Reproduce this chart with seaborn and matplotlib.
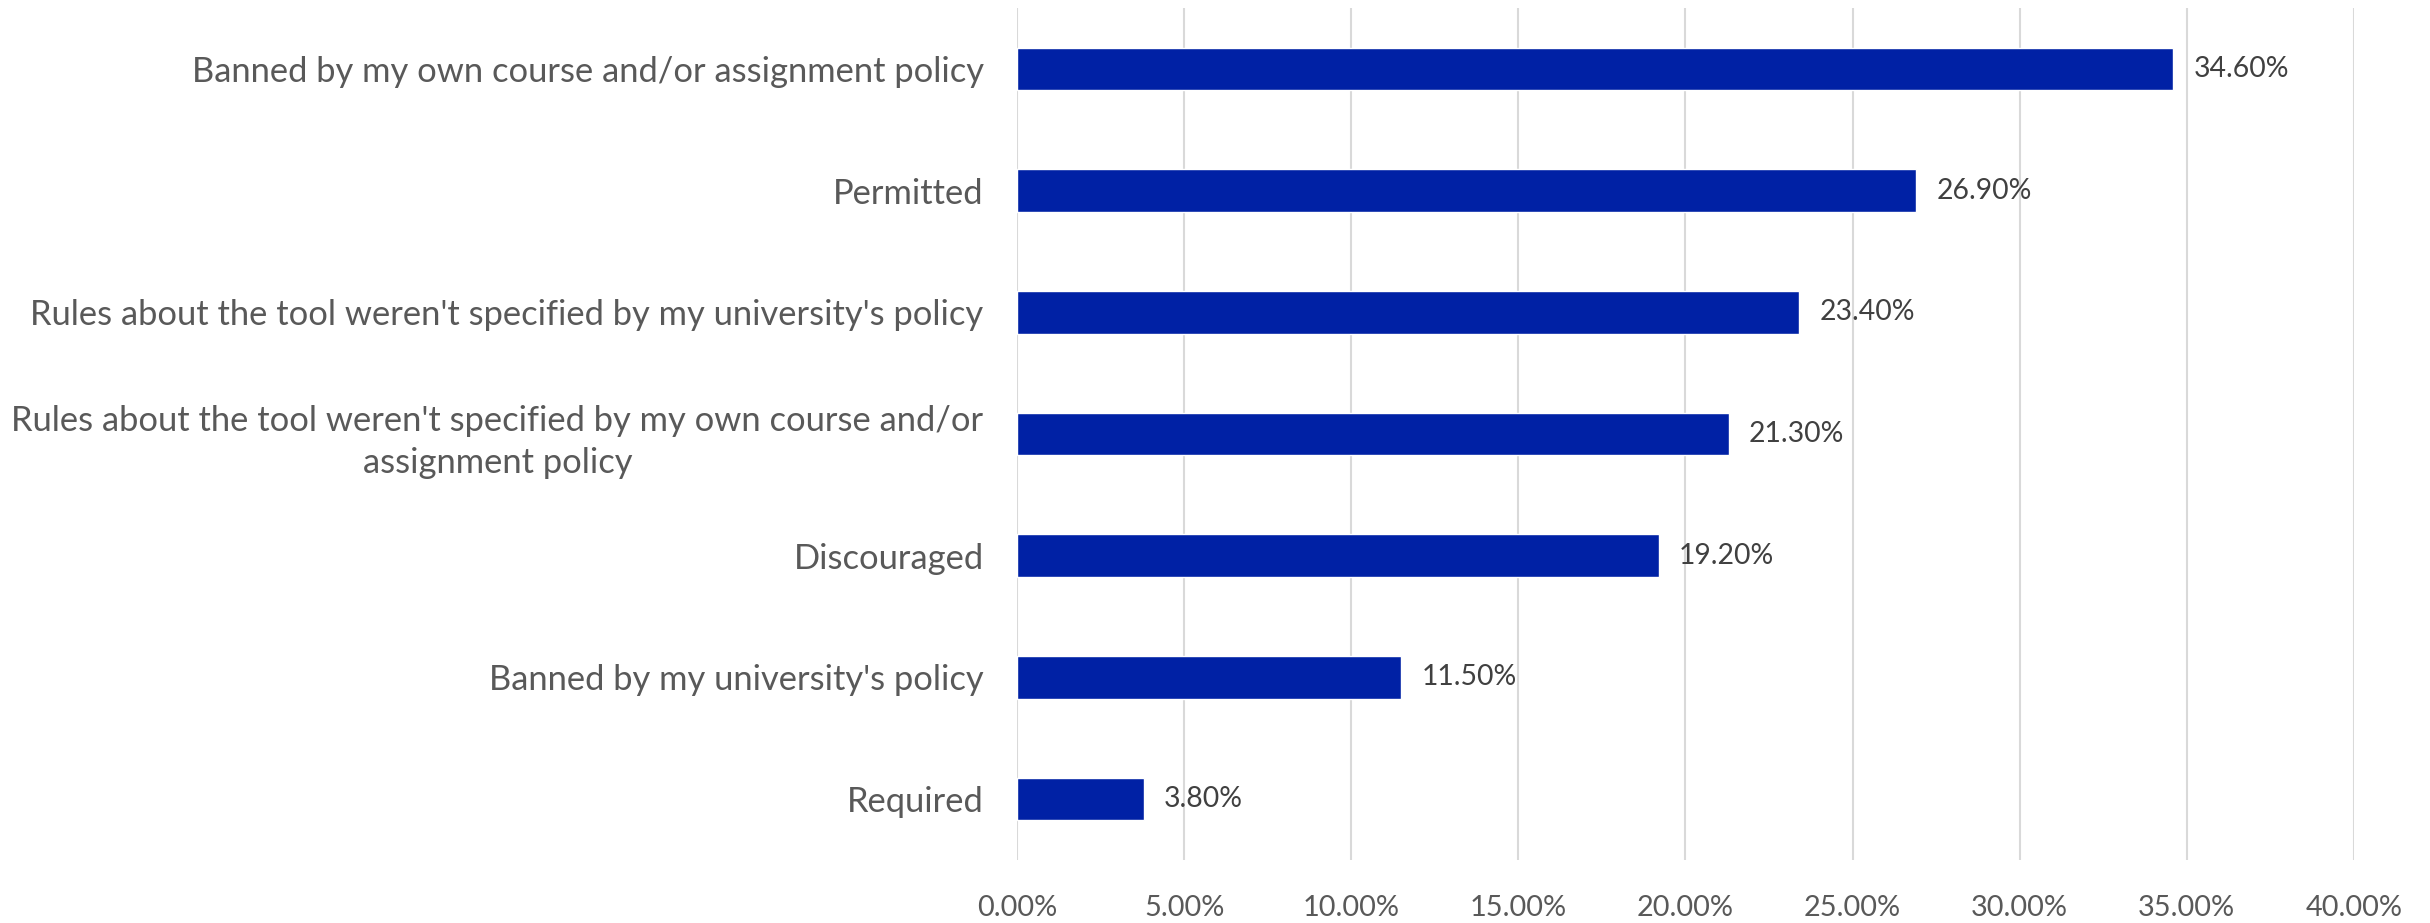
import matplotlib
matplotlib.use("Agg")
import matplotlib.pyplot as plt
import seaborn as sns
import pandas as pd
from matplotlib.ticker import FuncFormatter

categories = [
    "Banned by my own course and/or assignment policy",
    "Permitted",
    "Rules about the tool weren't specified by my university's policy",
    "Rules about the tool weren't specified by my own course and/or\nassignment policy",
    "Discouraged",
    "Banned by my university's policy",
    "Required",
]
values = [34.6, 26.9, 23.4, 21.3, 19.2, 11.5, 3.8]

df = pd.DataFrame({"category": categories, "value": values})

sns.set_style("white")
plt.rcParams["font.family"] = ["Lato", "DejaVu Sans"]

fig = plt.figure(figsize=(24.3, 9.23), dpi=100)
ax = fig.add_axes([0.4185, 0.0683, 0.9687 - 0.4185, 0.9913 - 0.0683])

sns.barplot(data=df, x="value", y="category", color="#0021A5", width=0.35,
            saturation=1, ax=ax, orient="h")

ax.set_xlim(0, 40)
ax.set_ylim(6.5, -0.5)
ax.set_xticks(range(0, 41, 5))
ax.xaxis.set_major_formatter(FuncFormatter(lambda v, p: f"{v:.2f}%"))
ax.grid(axis="x", color="#D9D9D9", linewidth=1.5)
ax.set_axisbelow(True)
for s in ax.spines.values():
    s.set_visible(False)
ax.set_xlabel("")
ax.set_ylabel("")
ax.tick_params(axis="both", length=0)
ax.tick_params(axis="x", labelsize=20.8, colors="#595959", pad=25)
ax.tick_params(axis="y", labelsize=24.8, colors="#595959", pad=24)
for lbl in ax.get_yticklabels():
    lbl.set_multialignment("center")
    lbl.set_linespacing(1.4)

for i, v in enumerate(values):
    ax.text(v + 0.6, i, f"{v:.2f}%", va="center", ha="left",
            fontsize=20.4, color="#404040")

fig.savefig("out.png", dpi=100)
